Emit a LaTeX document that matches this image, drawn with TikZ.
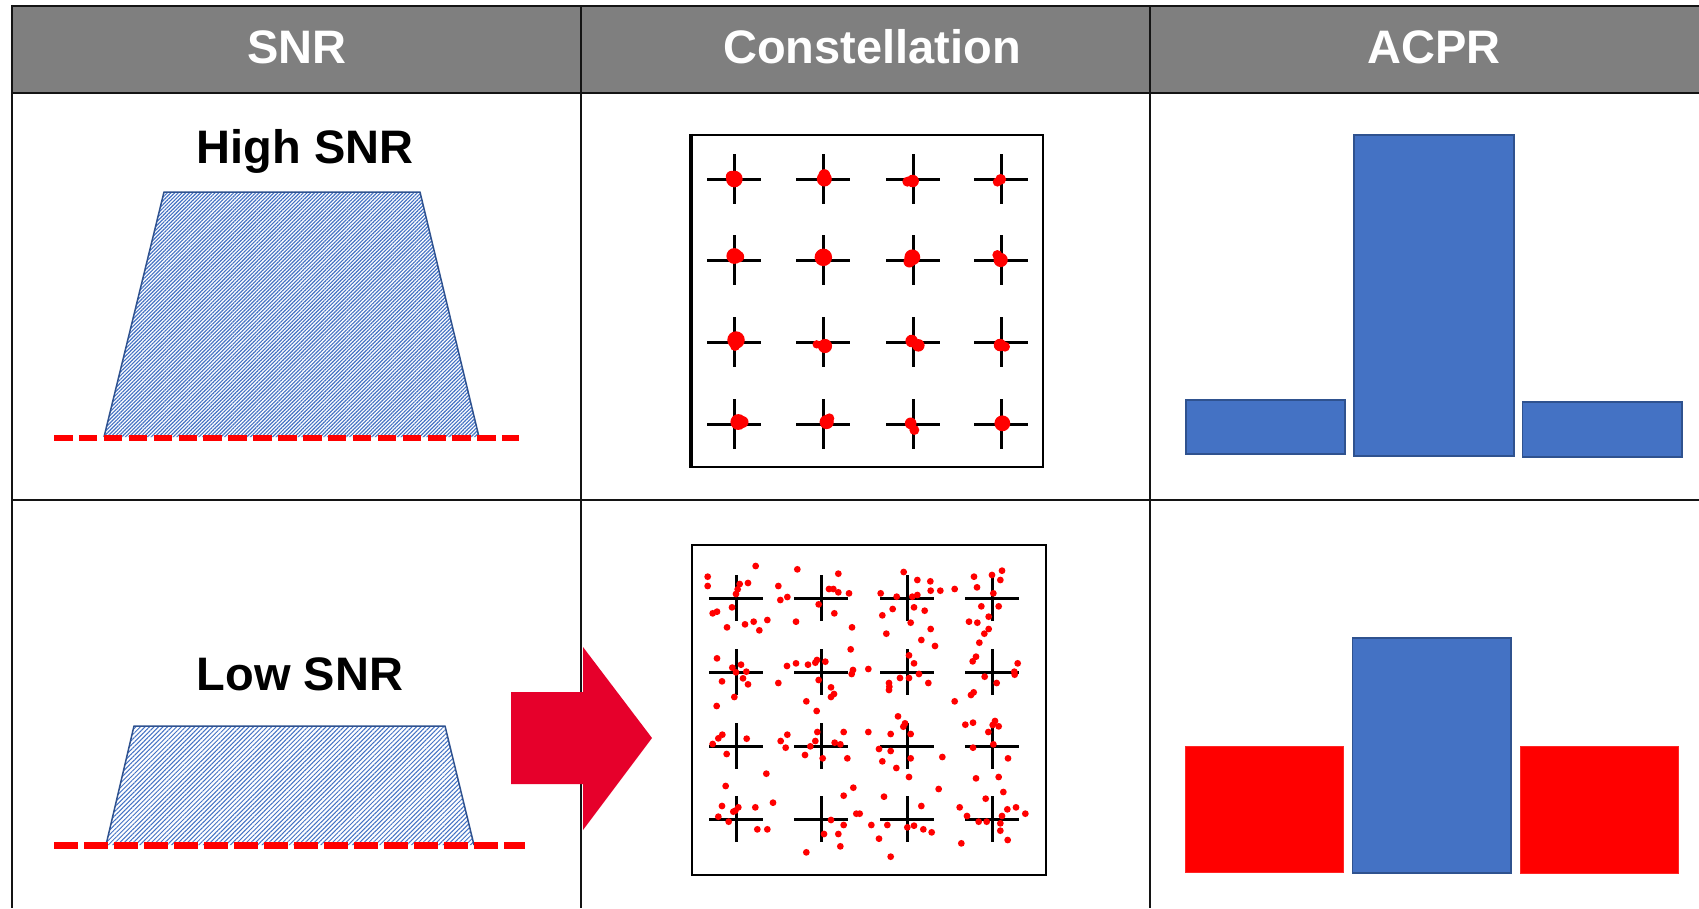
\documentclass[tikz,border=0pt]{standalone}
\usepackage{fontspec}
\setmainfont{Liberation Sans}
\usetikzlibrary{patterns.meta}
\definecolor{hdr}{RGB}{127,127,127}
\definecolor{bblue}{RGB}{68,114,196}
\definecolor{bedge}{RGB}{47,82,143}
\definecolor{arrred}{RGB}{230,0,43}
\definecolor{tline}{RGB}{20,20,20}
\tikzset{
  grid/.style={line width=2.4pt, draw=tline},
  hdrtext/.style={text=white, font=\fontsize{47}{56}\selectfont\bfseries, inner sep=0pt, anchor=base},
  lbltext/.style={text=black, font=\fontsize{47}{56}\selectfont\bfseries, inner sep=0pt, anchor=base},
  noise/.style={draw=red, line width=6.5pt},
  crossline/.style={line width=3pt, black},
  conbox/.style={draw=black, line width=2.4pt, fill=white},
  bluebar/.style={fill=bblue, draw=bedge, line width=1.6pt},
  redbar/.style={fill=red, draw=red!85!white, line width=0.8pt},
}
\begin{document}
\begin{tikzpicture}[x=1pt, y=-1pt]
\useasboundingbox (0,0) rectangle (1699,908);
\fill[white] (0,0) rectangle (1699,908);
% header
\fill[hdr] (12,6) rectangle (1699,93);
\node[hdrtext] (h1) at (297,63) {SNR};
\node[hdrtext] (h2) at (872,63) {Constellation};
\node[hdrtext] (h3) at (1434,63) {ACPR};
% table lines
\draw[grid] (12,6) -- (1699,6);
\draw[grid] (12,93) -- (1699,93);
\draw[grid] (12,500) -- (1699,500);
\draw[grid] (12,4.8) -- (12,908);
\draw[grid] (581,6) -- (581,908);
\draw[grid] (1150,6) -- (1150,908);
% labels
\node[lbltext] (hs) at (305,163) {High SNR};
\node[lbltext] (ls) at (300,690) {Low SNR};
% high SNR trapezoid
\fill[pattern={Lines[angle=45,distance=2.6pt,line width=1.15pt]}, pattern color=bblue]
  (164,192) -- (420,192) -- (479,437) -- (104,437) -- cycle;
\draw[bedge, line width=1.5pt, line join=round] (104,437) -- (164,192) -- (420,192) -- (479,437);
\draw[noise, dash pattern=on 18.5pt off 6.4pt] (54,438) -- (519,438);
% low SNR trapezoid
\fill[pattern={Lines[angle=45,distance=3.2pt,line width=1.0pt]}, pattern color=bblue]
  (134,726) -- (445,726) -- (474,845) -- (106,845) -- cycle;
\draw[bedge, line width=1.5pt, line join=round] (106,845) -- (134,726) -- (445,726) -- (474,845);
\draw[noise, line width=7pt, dash pattern=on 24pt off 6pt] (54,845) -- (525,845);
% constellation high
\draw[conbox] (691,135) rectangle (1043,467);
\draw[line width=3.6pt] (691,133.8) -- (691,468.2);
\foreach \x in {734,823,913,1001}
  \foreach \y in {179,260,342,424}
    \draw[crossline] (\x-27,\y) -- (\x+27,\y) (\x,\y-25) -- (\x,\y+25);
\foreach \a/\b/\r in {193/177/20,185/170/14,463/177/18,463/165/14,728/183/15,712/185/12,992/178/13,982/186/11,
  193/408/19,205/410/14,460/412/21,727/412/19,718/425/14,992/420/17,982/405/12,
  198/660/21,195/678/12,465/678/17,440/673/10,725/663/15,745/676/15,990/675/15,1005/680/12,
  205/906/19,218/906/14,470/906/17,478/895/12,722/910/14,733/930/12,997/910/19}
  \fill[red] ({670+\a/3},{120+\b/3}) circle ({\r/3*1.25pt});
% constellation low
\draw[conbox, line width=2.8pt] (692,545) rectangle (1046,875);
\foreach \x in {736,821,907,992}
  \foreach \y in {598,672,746,819}
    \draw[crossline] (\x-27,\y) -- (\x+27,\y) (\x,\y-23) -- (\x,\y+23);
\foreach \a/\b in {113/140,113/168,257/108,209/162,234/159,203/178,198/192,186/232,128/250,141/245,171/292,225/283,251/275,268/301,292/270,
382/118,325/168,331/210,352/201,378/275,477/177,490/177,505/131,505/187,537/190,446/223,493/250,546/292,
701/126,742/150,781/154,782/182,811/182,854/177,632/190,680/200,727/200,742/195,668/237,732/232,764/242,637/256,722/278,649/311,782/297,754/330,795/348,
912/140,966/135,996/122,991/150,921/172,970/190,934/229,986/229,956/260,897/275,922/278,956/297,943/311,928/338,
141/385,187/413,213/404,198/427,229/425,219/445,156/454,234/463,193/501,140/528,
325/459,351/408,378/400,414/404,436/398,441/390,466/395,446/450,483/472,492/492,483/501,409/514,440/543,542/358,549/420,545/432,595/417,
717/376,732/400,747/432,690/444,717/444,775/459,657/459,658/470,657/480,854/514,
918/380,908/394,944/440,980/459,1043/400,1033/425,1034/434,911/487,903/495,
128/642,145/625,157/614,230/626,170/672,289/731,
352/614,332/633,347/653,436/633,442/606,421/649,405/675,458/685,494/638,511/643,521/606,532/685,595/606,
684/559,705/580,700/590,722/612,662/612,627/657,662/663,722/685,637/694,679/714,717/741,817/681,
886/584,909/578,975/573,968/585,986/589,955/606,970/643,909/653,1014/685,918/745,986/741,
167/768,156/828,205/832,196/842,190/845,256/832,145/860,176/875,262/898,292/898,309/818,
550/773,521/797,559/851,569/851,483/870,521/885,462/912,505/912,511/949,409/967,
642/800,754/828,806/777,604/885,652/885,712/892,732/887,760/898,785/907,627/926,662/980,
869/832,891/858,926/875,950/875,947/806,1000/786,1012/838,1038/832,1066/851,996/858,991/880,991/902,1013/930,874/940}
  \fill[red] ({670+\a/3},{530+\b/3}) circle (3.4pt);
% ACPR high
\draw[bluebar] (1186,400) rectangle (1345,454);
\draw[bluebar] (1354,135) rectangle (1514,456);
\draw[bluebar] (1522.5,402) rectangle (1682,457);
% ACPR low
\draw[redbar] (1185,746) rectangle (1343,872);
\draw[bluebar] (1352.5,638) rectangle (1511,873);
\draw[redbar] (1520,746) rectangle (1678,873);
% arrow
\fill[arrred] (511,692) -- (583,692) -- (583,647) -- (652,738) -- (583,830) -- (583,784) -- (511,784) -- cycle;
\end{tikzpicture}
\end{document}
